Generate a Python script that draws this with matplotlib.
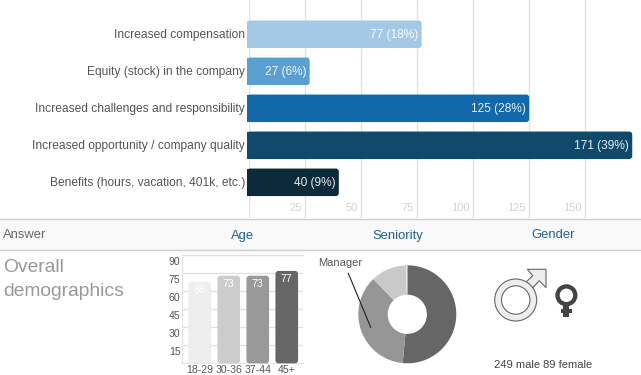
import matplotlib
matplotlib.use("Agg")
import matplotlib.pyplot as plt
from matplotlib.patches import Circle, FancyBboxPatch, Polygon, Rectangle
from matplotlib.transforms import ScaledTranslation

plt.rcParams["font.family"] = ["Liberation Sans", "DejaVu Sans"]

W, H = 641, 375

answers = ["Increased compensation", "Equity (stock) in the company",
           "Increased challenges and responsibility",
           "Increased opportunity / company quality",
           "Benefits (hours, vacation, 401k, etc.)"]
counts = [77, 27, 125, 171, 40]
shares = [18, 6, 28, 39, 9]
bar_ticks = [25, 50, 75, 100, 125, 150]
bar_colors = ["#A4C9E6", "#5A9FD1", "#1268A8", "#0F4A6D", "#0B2A3A"]

age_groups = ["18-29", "30-36", "37-44", "45+"]
age_values = [68, 73, 73, 77]
age_ticks = [15, 30, 45, 60, 75, 90]
age_colors = ["#EEEEEE", "#CCCCCC", "#999999", "#666666"]

seniority = [51.5, 36.3, 11.8, 0.4]
seniority_colors = ["#666666", "#969696", "#C9C9C9", "#EEEEEE"]

GRID, TXT, BLUE = "#E2E2E2", "#555555", "#1F6290"


def _ax(fig, l, t, r, b):
    # rect in pixels, from the top left
    return fig.add_axes([l / W, 1 - b / H, (r - l) / W, (b - t) / H])


def _rounded(ax, x, y, w, h, color, sx, sy, r=3):
    # r in pixels, sx and sy are pixels per data unit
    ax.add_patch(FancyBboxPatch((x, y), w, h, boxstyle=f"round,pad=0,rounding_size={r / sx}",
                                mutation_aspect=sx / sy, fc=color, ec="none", zorder=3,
                                clip_on=False))


fig = plt.figure(figsize=(W / 100, H / 100), dpi=100, facecolor="white")

# page furniture
bg = _ax(fig, 0, 0, W, H)
bg.set_xlim(0, W); bg.set_ylim(H, 0); bg.axis("off")
bg.add_patch(Rectangle((0, 218.5), W, 31, fc="#F9F9F9", ec="none"))
bg.plot([0, W], [218.5, 218.5], color="#CFCFCF", lw=1)
bg.plot([0, W], [249.5, 249.5], color="#CFCFCF", lw=1)
bg.text(3, 235.5, "Answer", fontsize=9.4, color="#666666", va="center")
for x, t in zip((243, 397.5, 553), ("Age", "Seniority", "Gender")):
    bg.text(x, 235.5, t, fontsize=9.4, color=BLUE, ha="center", va="center")
bg.text(3, 267.5, "Overall", fontsize=13.9, color="#999999", va="center")
bg.text(3, 291.5, "demographics", fontsize=13.9, color="#999999", va="center")

# main bars
sx, sy = 2.24, 37
ax = _ax(fig, 248.5, 0, W, 218)
ax.patch.set_alpha(0)
ax.set_xlim(0, (W - 248.5) / sx)
ax.set_ylim((218 - 34.3) / sy, -34.3 / sy)
bh = 27.5 / sy
for i, (c, s, col) in enumerate(zip(counts, shares, bar_colors)):
    _rounded(ax, -1.5 / sx, i - bh / 2, c + 2.2 / sx, bh, col, sx, sy)
    ax.barh(i, 4, left=-1.5 / sx, height=bh, color=col, zorder=3, clip_on=False)
    ax.text(c - 2.5 / sx, i + 1 / sy, f"{c} ({s}%)", color="white", fontsize=8.6, ha="right",
            va="center", alpha=0.9, zorder=4)
    ax.text(-3.5 / sx, i + 1 / sy, answers[i], color=TXT, fontsize=8.63, ha="right", va="center",
            clip_on=False)
for v in [0] + bar_ticks:
    ax.axvline(v, color=GRID, lw=1, zorder=1)
for v in bar_ticks:
    ax.text(v - 2.5 / sx, 4.69, str(v), color="#D4D4D4", fontsize=8, ha="right", va="center")
ax.set_xticks([]); ax.set_yticks([])
for s in ax.spines.values():
    s.set_visible(False)

# age
ax = _ax(fig, 182, 255.3, 303, 363.3)
ax.set_xlim(-0.61, 3.56); ax.set_ylim(0, 90)
for i, (v, col) in enumerate(zip(age_values, age_colors)):
    _rounded(ax, i - 0.39, 0, 0.78, v, col, 29, 1.2)
    ax.text(i, v - 6.7, str(v), color="white", fontsize=7.6, ha="center", va="center", zorder=4)
ax.set_xticks(range(4)); ax.set_xticklabels(age_groups)
ax.set_yticks(age_ticks)
ax.tick_params(length=0, labelsize=7.6, labelcolor=TXT, pad=1)
ax.tick_params(axis="x", pad=1)
# tick labels sit just under their gridline
down = ScaledTranslation(0, -2 / 100, fig.dpi_scale_trans)
for lab in ax.get_yticklabels():
    lab.set_verticalalignment("top")
    lab.set_transform(lab.get_transform() + down)
ax.grid(axis="y", color=GRID, lw=1, zorder=0)
ax.set_axisbelow(True)
for s in ax.spines.values():
    s.set_visible(False)
for k in ("left", "top", "bottom"):
    ax.spines[k].set_visible(True); ax.spines[k].set_color(GRID)

# seniority
ax = _ax(fig, 358.3, 265.3, 456.3, 363.3)
ax.pie(seniority, colors=seniority_colors, startangle=90, counterclock=False, radius=1,
       wedgeprops={"width": 0.6, "linewidth": 0})
ax.set_xlim(-1, 1); ax.set_ylim(-1, 1)

# overlay: callout and gender symbols
top = _ax(fig, 0, 0, W, H)
top.set_xlim(0, W); top.set_ylim(H, 0); top.axis("off"); top.patch.set_alpha(0)
top.text(318.5, 263, "Manager", fontsize=8, color=TXT, va="center")
top.plot([348.3, 370.7], [273.3, 327.3], color="#222222", lw=0.8)

MALE, EDGE = "#EEEEEE", "#666666"
top.add_patch(Polygon([(527.3, 269.3), (546, 269.3), (546, 287.7), (539.3, 280.7), (530.5, 290),
                       (524, 284), (532.7, 275.7)], closed=True, fc=MALE, ec=EDGE, lw=0.8))
top.add_patch(Circle((515.7, 300), 21, fc=MALE, ec=EDGE, lw=0.8))
top.add_patch(Circle((515.7, 300), 14.2, fc="white", ec=EDGE, lw=0.8))

FEMALE = "#444444"
top.add_patch(Rectangle((563.3, 304), 6, 13.3, fc=FEMALE, ec="none"))
top.add_patch(Rectangle((560.7, 309), 11, 3.8, fc=FEMALE, ec="none"))
top.add_patch(Circle((566.4, 295.3), 8.9, fc="white", ec=FEMALE, lw=3.1))

top.text(493.7, 365.5, "249 male", fontsize=8.1, color=FEMALE, va="center")
top.text(543, 365.5, "89 female", fontsize=8.1, color=FEMALE, va="center")

fig.savefig("out.png", dpi=100)
